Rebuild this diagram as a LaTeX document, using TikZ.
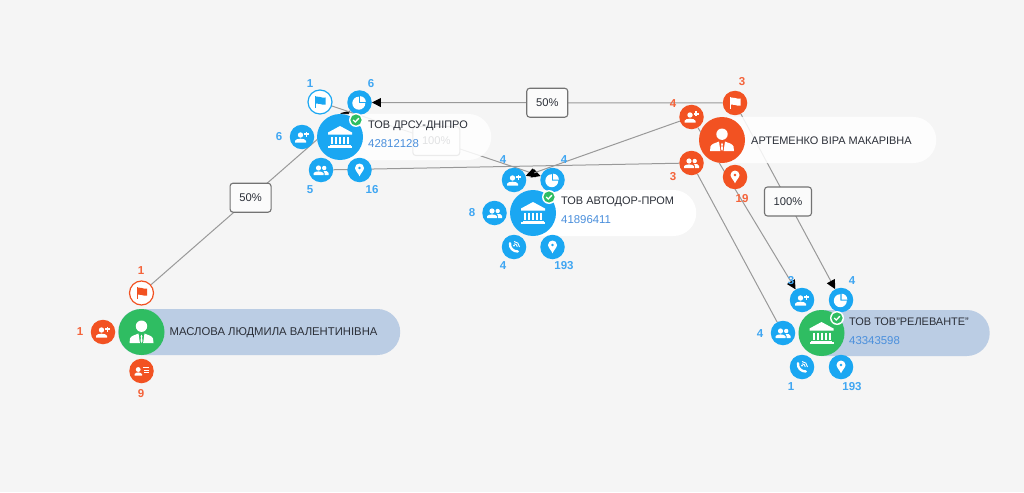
\documentclass[tikz,border=0pt]{standalone}
\usepackage{fontspec}
\setmainfont{Liberation Sans}
\usetikzlibrary{arrows.meta}
\pgfdeclarelayer{back}\pgfdeclarelayer{edges}\pgfdeclarelayer{pills}
\pgfsetlayers{back,edges,pills,main}
\definecolor{bgc}{HTML}{F5F5F5}
\definecolor{bluec}{HTML}{1AA7F2}
\definecolor{orangec}{HTML}{F25222}
\definecolor{greenc}{HTML}{2FBD62}
\definecolor{pillc}{HTML}{BBCDE4}
\definecolor{edgec}{HTML}{999999}
\definecolor{bluet}{HTML}{3FA6F2}
\definecolor{oranget}{HTML}{F4633A}
\definecolor{codec}{HTML}{4A8FDC}
\definecolor{namec}{HTML}{2B2F38}
\tikzset{
 x=1pt,y=-1pt,
 sat/.style={circle,fill=#1,draw=none,minimum size=24.5pt,inner sep=0pt},
 hollow/.style={circle,fill=white,draw=#1,line width=1.2pt,minimum size=24pt,inner sep=0pt},
 hub/.style={circle,fill=#1,draw=none,minimum size=46pt,inner sep=0pt},
 pill/.style={rectangle,rounded corners=22.9pt,anchor=west,minimum height=46pt,inner sep=0pt,fill=#1},
 nametext/.style={anchor=west,inner sep=0pt,text=namec,font=\fontsize{10.95}{13}\selectfont},
 codetext/.style={anchor=west,inner sep=0pt,text=codec,font=\fontsize{11.4}{14}\selectfont},
 cnt/.style={inner sep=0pt,text=#1,font=\fontsize{11.5}{13}\selectfont\bfseries},
 link/.style={draw=edgec,line width=1pt},
 arrowlink/.style={link,-{Triangle[length=9pt,width=9pt,color=black]}},
 edgelab/.style={rectangle,draw=black!55,fill=white!60!bgc,rounded corners=3pt,line width=1.1pt,
   minimum height=29pt,minimum width=41pt,inner sep=2pt,text=namec,font=\fontsize{11.2}{13}\selectfont},
 pics/icflag/.style={code={\fill[#1] (-5,-6) rectangle (-3.9,6);
   \fill[#1] (-3.9,-5.5) .. controls (-1,-6.5) and (1,-3.5) .. (5.5,-4.5) -- (5.5,2.5) .. controls (1,3.5) and (-1,0.5) .. (-3.9,1.5) -- cycle;}},
 pics/icpie/.style={code={\fill[#1] (-0.7,0.7) -- (-0.7,-5.8) arc[start angle=270,end angle=0,radius=6.5] -- cycle;
   \fill[#1] (0.5,-0.5) -- (0.5,-6.3) arc[start angle=270,end angle=360,radius=5.8] -- cycle;}},
 pics/icadd/.style={code={\fill[#1] (-1.5,-2) circle (2.7);
   \fill[#1] (-7,5.5) -- (-7,3.8) .. controls (-6,1) and (3,1) .. (4,3.8) -- (4,5.5) -- cycle;
   \fill[#1] (3.9,-5.5) rectangle (5.1,-0.5); \fill[#1] (2,-3.6) rectangle (7,-2.4);}},
 pics/icgroup/.style={code={\fill[#1] (-2.5,-2) circle (2.6); \fill[#1] (3.2,-2) circle (2.2);
   \fill[#1] (-7.5,5) -- (-7.5,3.2) .. controls (-6.5,0.8) and (1.5,0.8) .. (2.5,3.2) -- (2.5,5) -- cycle;
   \fill[#1] (3.5,5) -- (3.5,2.8) .. controls (3.5,1.8) and (3,1.2) .. (2.5,1) .. controls (5,0.4) and (7,1.2) .. (7.5,3) -- (7.5,5) -- cycle;}},
 pics/icpin/.style={code={\fill[#1,even odd rule] (0,6.3) .. controls (-1,3.5) and (-4.5,0.5) .. (-4.5,-2)
   arc[start angle=180,end angle=360,radius=4.5] .. controls (4.5,0.5) and (1,3.5) .. (0,6.3) -- cycle (0,-2) circle (1.7);}},
 pics/icphone/.style={code={\draw[#1,line width=2.4pt,line cap=round] (-4,-3.8) .. controls (-4.5,1) and (-1,4.5) .. (3.8,4.5);
   \draw[#1,line width=0.9pt] (0,-5.5) .. controls (3,-5.5) and (5.5,-3) .. (5.5,0);
   \draw[#1,line width=0.9pt] (0,-3.3) .. controls (1.8,-3.3) and (3.3,-1.8) .. (3.3,0);
   \fill[#1] (0,-1.3) circle (1);}},
 pics/iclist/.style={code={\fill[#1] (-3.3,-1.5) circle (2.4);
   \fill[#1] (-7,4.5) -- (-7,3.2) .. controls (-6,0.8) and (-0.5,0.8) .. (0.5,3.2) -- (0.5,4.5) -- cycle;
   \fill[#1] (1,-4.3) rectangle (7,-3.3); \fill[#1] (2,-1.5) rectangle (7,-0.5); \fill[#1] (2.5,1.3) rectangle (7,2.3);}},
 pics/icbank/.style={code={\fill[#1] (0,-11) -- (12,-4.5) -- (12,-2.5) -- (-12,-2.5) -- (-12,-4.5) -- cycle;
   \foreach \cx in {-9,-5,-1,3,7}{\fill[#1] (\cx,-0.5) rectangle ++(2.2,7);}
   \fill[#1] (-10.5,7.5) rectangle (10.5,8.7); \fill[#1] (-12,9.2) rectangle (12,11);}},
 pics/icperson/.style={code={\fill[#1] (0,-5.8) circle (5.7);
   \fill[#1] (-12,11) -- (-11.5,6.5) .. controls (-10.5,3.5) and (-6,3) .. (-3,1.5) -- (-1.6,11) -- cycle;
   \fill[#1] (12,11) -- (11.5,6.5) .. controls (10.5,3.5) and (6,3) .. (3,1.5) -- (1.6,11) -- cycle;
   \fill[#1] (0,2.5) -- (0.9,4.5) -- (0.5,5.2) -- (1,9) -- (0,11) -- (-1,9) -- (-0.5,5.2) -- (-0.9,4.5) -- cycle;}},
 pics/icbadge/.style={code={\fill[white] (0,0) circle (7); \fill[greenc] (0,0) circle (5.6);
   \draw[white,line width=1.3pt] (-2.8,0) -- (-0.8,2) -- (2.9,-1.8);}},
}
% sat: name, x, y, colour, icon ; count: name, x, y, colour, text
\newcommand{\mysat}[5]{\node[sat=#4] (#1) at (#2,#3) {}; \pic at (#1) {#5=white};}
\newcommand{\myhollow}[5]{\node[hollow=#4] (#1) at (#2,#3) {}; \pic at (#1) {#5=#4};}
\newcommand{\mycnt}[5]{\node[cnt=#4] (#1) at (#2,#3) {#5};}
\begin{document}
\begin{tikzpicture}
\useasboundingbox (0,0) rectangle (1024,492);
\begin{pgfonlayer}{back}\fill[bgc] (0,0) rectangle (1024,492);\end{pgfonlayer}

% Maslova
\node[hub=greenc] (mas) at (141.5,332) {};
\pic at (mas) {icperson=white};
\myhollow{masf}{141.5}{293}{orangec}{icflag}
\mysat{masa}{103}{332}{orangec}{icadd}
\mysat{masl}{141.5}{371}{orangec}{iclist}
\node[nametext,font=\fontsize{11.3}{13}\selectfont] (masn) at (169.5,332.5) {МАСЛОВА ЛЮДМИЛА ВАЛЕНТИНІВНА};
\mycnt{c1}{141}{271}{oranget}{1}
\mycnt{c2}{80}{332}{oranget}{1}
\mycnt{c3}{141}{394}{oranget}{9}

% DRSU
\node[hub=bluec] (drs) at (340,137) {};
\pic at (drs) {icbank=white};
\myhollow{drsf}{320}{102}{bluec}{icflag}
\mysat{drsp}{359.5}{102.5}{bluec}{icpie}
\mysat{drsa}{302}{137}{bluec}{icadd}
\mysat{drsg}{321}{170}{bluec}{icgroup}
\mysat{drsm}{359.5}{170}{bluec}{icpin}
\pic at (356,120) {icbadge};
\node[nametext] (drsn) at (368,125.5) {ТОВ ДРСУ-ДНІПРО};
\node[codetext] (drsc) at (368,144) {42812128};
\mycnt{c4}{310}{84}{bluet}{1}
\mycnt{c5}{371}{84}{bluet}{6}
\mycnt{c6}{279}{137}{bluet}{6}
\mycnt{c7}{310}{190}{bluet}{5}
\mycnt{c8}{372}{190}{bluet}{16}

% Avtodor
\node[hub=bluec] (avt) at (533,213) {};
\pic at (avt) {icbank=white};
\mysat{avta}{514}{180}{bluec}{icadd}
\mysat{avtp}{552.5}{180}{bluec}{icpie}
\mysat{avtg}{494.5}{213}{bluec}{icgroup}
\mysat{avtt}{514}{247}{bluec}{icphone}
\mysat{avtm}{552.5}{247}{bluec}{icpin}
\pic at (549,197) {icbadge};
\node[nametext] (avtn) at (561,202) {ТОВ АВТОДОР-ПРОМ};
\node[codetext] (avtc) at (561,220) {41896411};
\mycnt{c9}{503}{160}{bluet}{4}
\mycnt{c10}{564}{160}{bluet}{4}
\mycnt{c11}{472}{213}{bluet}{8}
\mycnt{c12}{503}{266}{bluet}{4}
\mycnt{c13}{564}{266}{bluet}{193}

% Artemenko
\node[hub=orangec] (art) at (722,140) {};
\pic at (art) {icperson=white};
\mysat{artf}{735}{103}{orangec}{icflag}
\mysat{arta}{691.5}{117}{orangec}{icadd}
\mysat{artg}{691.5}{163}{orangec}{icgroup}
\mysat{artm}{735}{177}{orangec}{icpin}
\node[nametext] (artn) at (751,140.5) {АРТЕМЕНКО ВІРА МАКАРІВНА};
\mycnt{c14}{742}{82}{oranget}{3}
\mycnt{c15}{673}{104}{oranget}{4}
\mycnt{c16}{673}{177}{oranget}{3}
\mycnt{c17}{742}{199}{oranget}{19}

% Relevante
\node[hub=greenc] (rel) at (821.5,333) {};
\pic at (rel) {icbank=white};
\mysat{rela}{802}{300}{bluec}{icadd}
\mysat{relp}{841}{300}{bluec}{icpie}
\mysat{relg}{783}{333}{bluec}{icgroup}
\mysat{relt}{802}{367}{bluec}{icphone}
\mysat{relm}{841}{367}{bluec}{icpin}
\pic at (837,318) {icbadge};
\node[nametext] (reln) at (849,321.5) {ТОВ ТОВ"РЕЛЕВАНТЕ"};
\node[codetext] (relc) at (849,341) {43343598};
\mycnt{c18}{791}{281}{bluet}{3}
\mycnt{c19}{852}{281}{bluet}{4}
\mycnt{c20}{760}{334}{bluet}{4}
\mycnt{c21}{791}{387}{bluet}{1}
\mycnt{c22}{852}{387}{bluet}{193}

\begin{pgfonlayer}{pills}
\node[pill=pillc,minimum width=282pt] (masb) at (118,332) {};
\node[pill=white,fill opacity=0.86,minimum width=174pt] (drsb) at (317,137) {};
\node[pill=white,minimum width=186pt] (avtb) at (510,213) {};
\node[pill=white,fill opacity=0.86,minimum width=237pt] (artb) at (699,140) {};
\node[pill=pillc,minimum width=191pt] (relb) at (798.5,333) {};
\end{pgfonlayer}

\begin{pgfonlayer}{edges}
\draw[arrowlink] (masf) -- node[edgelab] (l1) {50\%} (drsp);
\draw[arrowlink] (drsf) -- node[edgelab,minimum width=47pt] (l2) {100\%} (avtp);
\draw[arrowlink] (artf) -- node[edgelab] (l3) {50\%} (drsp);
\draw[arrowlink] (artf) -- node[edgelab,minimum width=47pt] (l4) {100\%} (relp);
\draw[arrowlink] (arta) -- (avta);
\draw[arrowlink] (arta) -- (rela);
\draw[link] (artg) -- (drsg);
\draw[link] (artg) -- (relg);
\end{pgfonlayer}
\end{tikzpicture}
\end{document}
